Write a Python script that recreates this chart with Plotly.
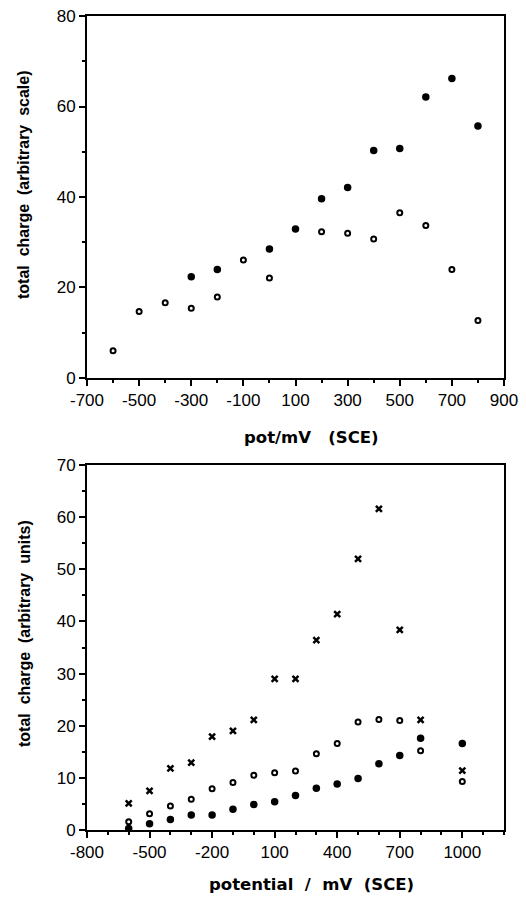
import plotly.graph_objects as go
from plotly.subplots import make_subplots

# top panel: pot/mV (SCE) vs total charge (arbitrary scale)
top_pot_filled = [-300, -200, 0, 100, 200, 300, 400, 500, 600, 700, 800]
top_charge_filled = [22.4, 24.0, 28.5, 32.9, 39.6, 42.1, 50.3, 50.7, 62.1, 66.2, 55.7]

top_pot_open = [-600, -500, -400, -300, -200, -100, 0, 200, 300, 400, 500, 600, 700, 800]
top_charge_open = [6.0, 14.7, 16.6, 15.4, 17.9, 26.1, 22.1, 32.3, 32.0, 30.7, 36.5, 33.7, 24.0, 12.7]

top_xticks = [-700, -500, -300, -100, 100, 300, 500, 700, 900]
top_yticks = [0, 20, 40, 60, 80]

# bottom panel: potential / mV (SCE) vs total charge (arbitrary units)
bot_pot = [-600, -500, -400, -300, -200, -100, 0, 100, 200, 300, 400, 500, 600, 700, 800, 1000]
bot_charge_cross = [5.1, 7.5, 11.8, 12.9, 17.9, 19.0, 21.1, 29.0, 29.0, 36.4, 41.4, 52.0, 61.6, 38.4, 21.1, 11.4]
bot_charge_open = [1.6, 3.1, 4.6, 5.9, 7.9, 9.1, 10.5, 11.0, 11.3, 14.6, 16.6, 20.7, 21.2, 21.0, 15.2, 9.3]
bot_charge_filled = [0.3, 1.2, 2.0, 2.9, 2.9, 4.0, 4.9, 5.4, 6.6, 8.0, 8.8, 9.9, 12.7, 14.3, 17.6, 16.6]

bot_xticks = [-800, -500, -200, 100, 400, 700, 1000]
bot_yticks = [0, 10, 20, 30, 40, 50, 60, 70]

tick_font = dict(family="Liberation Sans, Arial, sans-serif", size=17, color="black")
ytitle_font = dict(family="Liberation Sans, Arial, sans-serif", size=16, color="black", weight="bold")
xtitle_font = dict(family="DejaVu Sans, sans-serif", size=16.5, color="black", weight="bold")

filled = dict(symbol="circle", size=7.5, color="black")
ring = dict(symbol="circle-open", size=5, color="black", line=dict(width=2, color="black"))
cross = dict(symbol="x-thin", size=6, color="black", line=dict(width=2.5, color="black"))

fig = make_subplots(rows=2, cols=1)

fig.add_trace(go.Scatter(x=top_pot_filled, y=top_charge_filled, mode="markers",
                         marker=filled, cliponaxis=False), row=1, col=1)
fig.add_trace(go.Scatter(x=top_pot_open, y=top_charge_open, mode="markers",
                         marker=ring, cliponaxis=False), row=1, col=1)

fig.add_trace(go.Scatter(x=bot_pot, y=bot_charge_cross, mode="markers",
                         marker=cross, cliponaxis=False), row=2, col=1)
fig.add_trace(go.Scatter(x=bot_pot, y=bot_charge_open, mode="markers",
                         marker=ring, cliponaxis=False), row=2, col=1)
fig.add_trace(go.Scatter(x=bot_pot, y=bot_charge_filled, mode="markers",
                         marker=filled, cliponaxis=False), row=2, col=1)

axis_style = dict(showline=True, linecolor="black", linewidth=2, mirror=True,
                  showgrid=False, zeroline=False, ticks="outside", ticklen=6,
                  tickwidth=1.5, tickcolor="black", tickfont=tick_font,
                  automargin=False, ticklabeloverflow="allow")

fig.update_xaxes(axis_style)
fig.update_yaxes(axis_style)


def ticks(vals):
    return dict(tickmode="array", tickvals=vals, ticktext=[str(v) for v in vals])


fig.update_xaxes(range=[-700, 900], domain=[0, 1], **ticks(top_xticks),
                 minor=dict(dtick=100, tick0=-700, ticks="outside", ticklen=3, tickcolor="black"),
                 row=1, col=1)
fig.update_yaxes(range=[0, 80], domain=[0.5553, 1], **ticks(top_yticks),
                 minor=dict(dtick=10, tick0=0, ticks="outside", ticklen=3, tickcolor="black"),
                 row=1, col=1)
fig.update_xaxes(range=[-800, 1200], domain=[0, 1], **ticks(bot_xticks),
                 minor=dict(dtick=100, tick0=-800, ticks="outside", ticklen=3, tickcolor="black"),
                 row=2, col=1)
fig.update_yaxes(range=[0, 70], domain=[0, 0.4484], **ticks(bot_yticks),
                 minor=dict(dtick=5, tick0=0, ticks="outside", ticklen=3, tickcolor="black"),
                 row=2, col=1)

# axis titles placed as annotations
title_x = dict(font=xtitle_font, showarrow=False,
               xref="paper", yref="paper", xanchor="center", yanchor="middle")
title_y = dict(font=ytitle_font, showarrow=False, textangle=-90,
               xref="paper", yref="paper", xanchor="center", yanchor="middle")

fig.add_annotation(text="pot/mV   (SCE)", x=(311 - 87) / 417, y=(830 - 437) / 814, **title_x)
fig.add_annotation(text="potential  /  mV  (SCE)", x=(311 - 87) / 417, y=(830 - 884) / 814, **title_x)
fig.add_annotation(text="total  charge  (arbitrary  scale)",
                   x=(24 - 87) / 417, y=(830 - 185) / 814, **title_y)
fig.add_annotation(text="total  charge  (arbitrary  units)",
                   x=(24 - 87) / 417, y=(830 - 634) / 814, **title_y)

fig.update_layout(width=526, height=898, showlegend=False,
                  margin=dict(l=87, r=22, t=16, b=68, autoexpand=False),
                  plot_bgcolor="white", paper_bgcolor="white")

# drop the default 8px body margin so the figure fills the window
fig.write_html("out.html", config={"displayModeBar": False},
               post_script="document.body.style.margin = '0';")
